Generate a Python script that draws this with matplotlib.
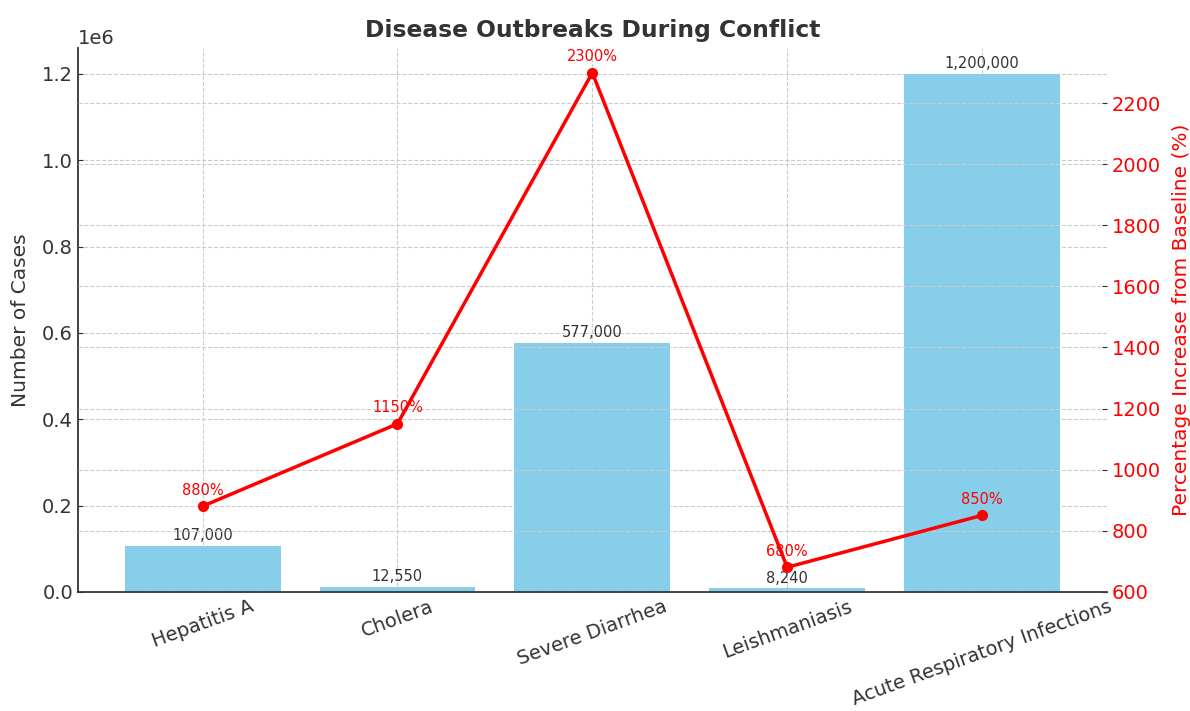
import numpy as np
import matplotlib.pyplot as plt

# Disease outbreak data
diseases = ['Hepatitis A', 'Cholera', 'Severe Diarrhea', 'Leishmaniasis',
            'Acute Respiratory Infections']
cases = [107000, 12550, 577000, 8240, 1200000]
pct_increase = [880, 1150, 2300, 680, 850]

text_color = '#333333'
plt.rcParams['text.color'] = text_color
plt.rcParams['axes.labelcolor'] = text_color
plt.rcParams['xtick.color'] = text_color
plt.rcParams['ytick.color'] = text_color
plt.rcParams['xtick.direction'] = 'in'
plt.rcParams['ytick.direction'] = 'in'

fig, ax = plt.subplots(figsize=(11.9, 7.11), dpi=100)
fig.subplots_adjust(left=0.0655, right=0.930, top=0.9325, bottom=0.1674)

x = np.arange(len(diseases))
bars = ax.bar(x, cases, color='skyblue', width=0.8, zorder=2)
ax.set_ylabel('Number of Cases', fontsize=14.5, labelpad=9)
ax.set_xticks(x)
ax.set_xticklabels(diseases, rotation=20, fontsize=14)
ax.tick_params(axis='y', labelsize=14)
ax.yaxis.get_offset_text().set_fontsize(14)
ax.grid(True, linestyle='--', color='#cccccc', linewidth=0.8, zorder=0)
ax.set_axisbelow(True)

for b, v in zip(bars, cases):
    ax.annotate(f'{v:,}', (b.get_x() + b.get_width() / 2, v),
                xytext=(0, 2), textcoords='offset points',
                ha='center', va='bottom', fontsize=10.5, color=text_color)

# Percentage increase on a secondary axis
ax2 = ax.twinx()
ax2.plot(x, pct_increase, color='red', marker='o', linewidth=2.5,
         markersize=7, zorder=3)
ax2.set_ylabel('Percentage Increase from Baseline (%)', color='red',
               fontsize=14.5, labelpad=8)
ax2.tick_params(axis='y', labelcolor='red', labelsize=14, direction='in')
ax2.grid(True, linestyle='--', color='#cccccc', linewidth=0.8)

for xi, p in zip(x, pct_increase):
    ax2.annotate(f'{p}%', (xi, p), xytext=(0, 6), textcoords='offset points',
                 ha='center', va='bottom', fontsize=10.5, color='red')

for a in (ax, ax2):
    a.spines['top'].set_visible(False)
    a.spines['right'].set_visible(False)
    a.spines['left'].set_color(text_color)
    a.spines['bottom'].set_color(text_color)
    a.spines['left'].set_linewidth(1.3)
    a.spines['bottom'].set_linewidth(1.3)
ax2.spines['left'].set_visible(False)
ax2.spines['bottom'].set_visible(False)

ax.set_title('Disease Outbreaks During Conflict', fontsize=16.8,
             fontweight='bold', color=text_color, pad=8)

fig.savefig('out.png')
